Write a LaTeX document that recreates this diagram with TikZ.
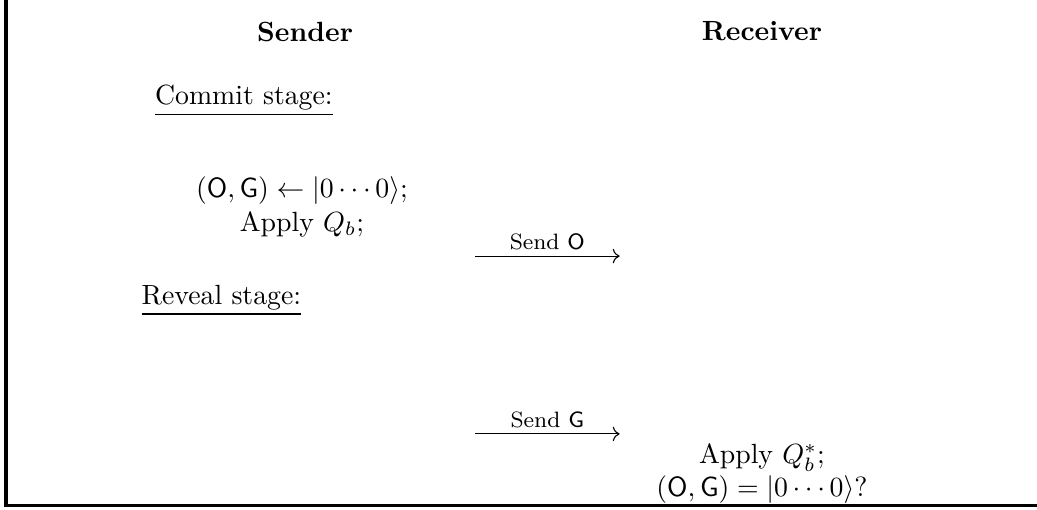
\documentclass[tikz,border=0pt]{standalone}
\usepackage{amsmath,amssymb}
\usepackage{tikz}
\usetikzlibrary{positioning,arrows.meta,calc}
\newcommand{\regO}{\mathsf{O}}
\newcommand{\regG}{\mathsf{G}}

\begin{document}
\begin{tikzpicture}[
  x=1cm,y=1cm,
  party/.style={font=\bfseries, inner sep=1pt},
  stage/.style={anchor=west, inner sep=1pt},
  act/.style={align=center, inner sep=1pt},
  msg/.style={->, line width=0.4pt},
  msglabel/.style={font=\footnotesize, above, inner sep=2pt},
  frame/.style={line width=1.1pt}
]
\useasboundingbox (0,0) rectangle (13.12,-6.44);

% column heads
\node[party] (snd) at (3.86,-0.40) {Sender};
\node[party] (rcv) at (9.64,-0.40) {Receiver};

% commit stage
\node[stage] (commit) at (1.92,-1.27) {\underline{Commit stage:}};
\node[act] (prep) at (3.82,-2.62) {$(\regO,\regG) \leftarrow |0\cdots0\rangle$;\\
  Apply $Q_b$;};
\coordinate (s1) at (6.01,-3.24);
\coordinate (r1) at (7.84,-3.24);
\draw[msg] (s1) -- node[msglabel] {Send $\regO$} (r1);

% reveal stage
\node[stage] (reveal) at (1.75,-3.80) {\underline{Reveal stage:}};
\coordinate (s2) at (6.01,-5.49);
\coordinate (r2) at (7.84,-5.49);
\draw[msg] (s2) -- node[msglabel] {Send $\regG$} (r2);
\node[act] (check) at (9.64,-5.99) {Apply $Q_b^*$;\\
  $(\regO,\regG) = |0\cdots0\rangle$?};

% frame on the left and bottom
\coordinate (ftop) at (0.076,0);
\coordinate (fcorner) at (0.076,-6.40);
\coordinate (fend) at (13.12,-6.40);
\draw[frame] (ftop) -- (fcorner) -- (fend);
\end{tikzpicture}
\end{document}
